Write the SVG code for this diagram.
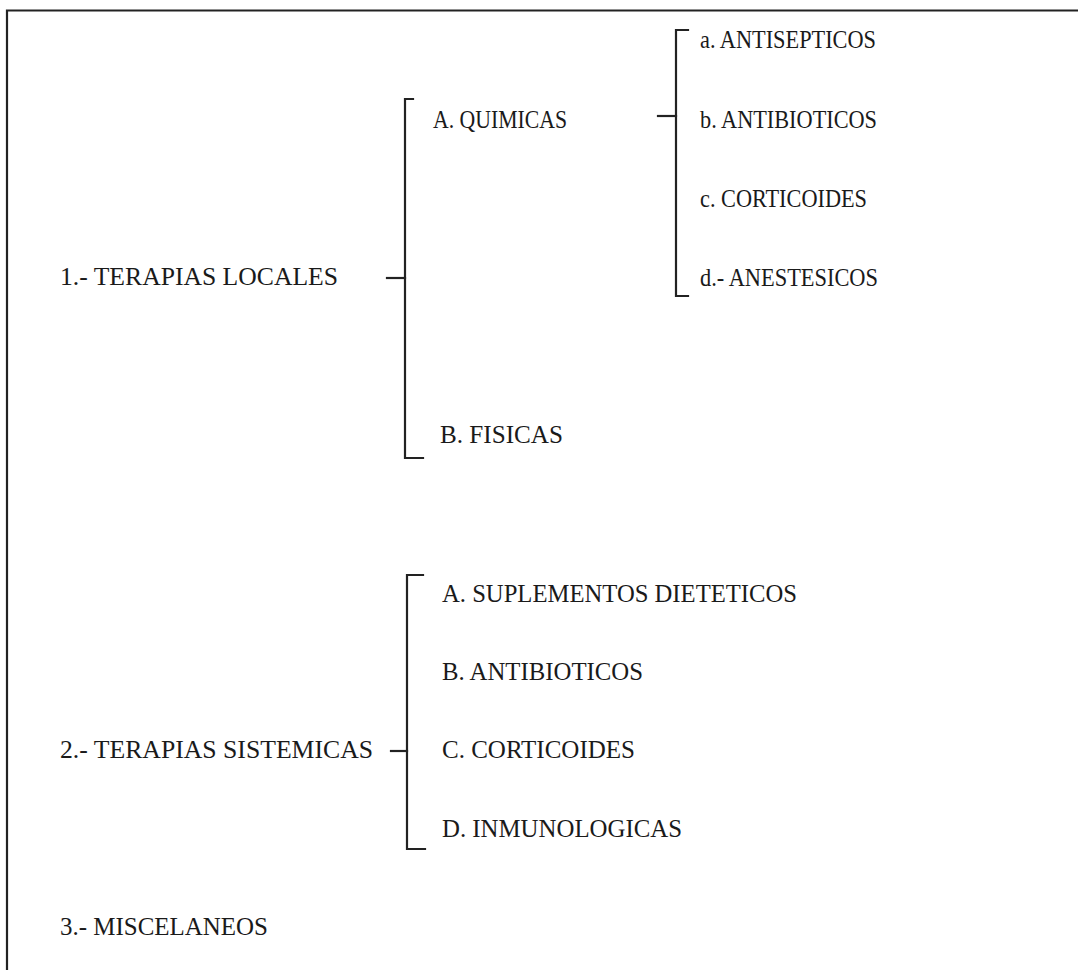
<svg xmlns="http://www.w3.org/2000/svg" width="1078" height="970" viewBox="0 0 1078 970">
<style>
text{font-family:"Liberation Serif","Times New Roman",serif;font-size:25px;fill:#1a1a1a}
.ln{fill:none;stroke:#222;stroke-width:2.2;stroke-linecap:square}
</style>
<rect width="1078" height="970" fill="#fff"/>
<path class="ln" d="M7,970 V10.5 H1078"/>
<g id="connectors">
<path class="ln" d="M413,99 H405 V458 H423"/>
<path class="ln" d="M387,278 H405"/>
<path class="ln" d="M688,30 H676 V296 H688"/>
<path class="ln" d="M658,116 H676"/>
<path class="ln" d="M423,575 H407 V849 H425"/>
<path class="ln" d="M391,751 H407"/>
</g>
<g id="n1"><text x="60" y="285" textLength="278" lengthAdjust="spacingAndGlyphs">1.- TERAPIAS LOCALES</text></g>
<g id="n1A"><text x="433" y="128" textLength="134" lengthAdjust="spacingAndGlyphs">A. QUIMICAS</text></g>
<g id="n1B"><text x="440" y="443" textLength="123" lengthAdjust="spacingAndGlyphs">B. FISICAS</text></g>
<g id="n1Aa"><text x="700" y="48" textLength="176" lengthAdjust="spacingAndGlyphs">a. ANTISEPTICOS</text></g>
<g id="n1Ab"><text x="700" y="128" textLength="177" lengthAdjust="spacingAndGlyphs">b. ANTIBIOTICOS</text></g>
<g id="n1Ac"><text x="700" y="207" textLength="167" lengthAdjust="spacingAndGlyphs">c. CORTICOIDES</text></g>
<g id="n1Ad"><text x="700" y="286" textLength="178" lengthAdjust="spacingAndGlyphs">d.- ANESTESICOS</text></g>
<g id="n2"><text x="60" y="758" textLength="313" lengthAdjust="spacingAndGlyphs">2.- TERAPIAS SISTEMICAS</text></g>
<g id="n2A"><text x="442" y="602" textLength="355" lengthAdjust="spacingAndGlyphs">A. SUPLEMENTOS DIETETICOS</text></g>
<g id="n2B"><text x="442" y="680" textLength="201" lengthAdjust="spacingAndGlyphs">B. ANTIBIOTICOS</text></g>
<g id="n2C"><text x="442" y="758" textLength="193" lengthAdjust="spacingAndGlyphs">C. CORTICOIDES</text></g>
<g id="n2D"><text x="442" y="837" textLength="240" lengthAdjust="spacingAndGlyphs">D. INMUNOLOGICAS</text></g>
<g id="n3"><text x="60" y="935" textLength="208" lengthAdjust="spacingAndGlyphs">3.- MISCELANEOS</text></g>
</svg>
